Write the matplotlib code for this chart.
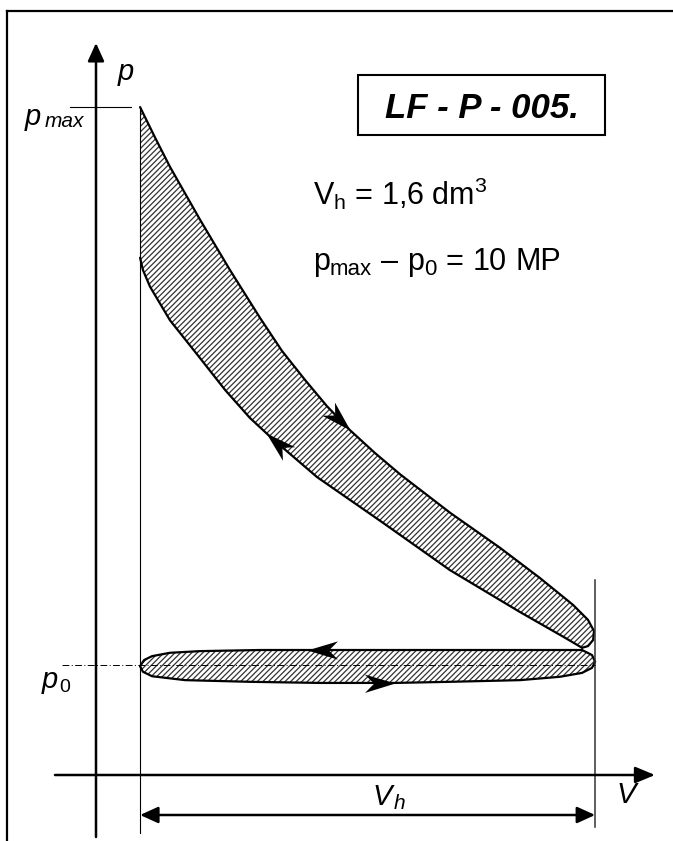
import numpy as np
import matplotlib
matplotlib.use("Agg")
import matplotlib.pyplot as plt
from matplotlib.path import Path
from matplotlib.markers import MarkerStyle
from matplotlib.transforms import Affine2D
from matplotlib.lines import Line2D
from matplotlib.patches import Rectangle

plt.rcParams['font.family'] = ['Liberation Sans', 'DejaVu Sans']
plt.rcParams['mathtext.fontset'] = 'custom'
plt.rcParams['mathtext.rm'] = 'Liberation Sans'
plt.rcParams['mathtext.it'] = 'Liberation Sans:italic'
plt.rcParams['hatch.linewidth'] = 0.9

#------------------------------------------------------------------------------
# p-V diagram: V in dm3, p in MPa
Vc = 0.155
Vh = 1.6
p0 = 1.97
pmax = 11.97

# expansion line, from pmax down to the right end
exp_V = [0.155, 0.207, 0.260, 0.366, 0.471, 0.577, 0.654, 0.735, 0.812, 0.893,
         0.981, 1.069, 1.245, 1.421, 1.561, 1.677, 1.730, 1.751, 1.748, 1.730, 1.709]
exp_p = [11.97, 11.43, 10.90, 9.95, 9.05, 8.19, 7.60, 7.08, 6.61, 6.18,
         5.77, 5.39, 4.70, 4.07, 3.53, 3.05, 2.78, 2.58, 2.42, 2.31, 2.28]

# compression line, from the right end back to Vc
comp_V = [1.709, 1.649, 1.491, 1.245, 1.009, 0.777, 0.658, 0.598, 0.541, 0.454,
          0.366, 0.260, 0.190, 0.165, 0.155]
comp_p = [2.28, 2.46, 2.92, 3.67, 4.52, 5.34, 5.86, 6.13, 6.40, 6.90,
          7.47, 8.15, 8.75, 9.05, 9.27]

# exhaust (upper edge of the low loop), right to left
exh_V = [1.709, 1.491, 1.245, 0.999, 0.742, 0.577, 0.366, 0.260, 0.197, 0.169, 0.155]
exh_p = [2.24, 2.24, 2.24, 2.24, 2.24, 2.24, 2.22, 2.19, 2.13, 2.06, 1.95]

# intake (lower edge of the low loop), left to right
int_V = [0.155, 0.165, 0.197, 0.313, 0.541, 0.788, 1.051, 1.245, 1.491, 1.631,
         1.709, 1.744, 1.755, 1.744, 1.709]
int_p = [1.95, 1.85, 1.77, 1.70, 1.67, 1.65, 1.65, 1.67, 1.70, 1.76,
         1.83, 1.92, 2.03, 2.15, 2.24]

# which point of each line carries the direction arrow
arrow_idx = {'exp': 9, 'comp': 7, 'exh': 4, 'int': 6}

#------------------------------------------------------------------------------
W, H = 673, 841
X0, Y0 = 96, 775          # pixel of the origin
SX, SY = 284.4, 55.8      # pixels per dm3 / per MPa

def fx(x): return x / W
def fy(y): return 1 - y / H

fig = plt.figure(figsize=(W / 100, H / 100), dpi=100)
ax = fig.add_axes([0, 0, 1, 1])
ax.set_xlim(-X0 / SX, (W - X0) / SX)
ax.set_ylim((Y0 - H) / SY, Y0 / SY)
ax.axis('off')

# hatched loops
up_V = exp_V + comp_V[1:] + [Vc]
up_p = exp_p + comp_p[1:] + [pmax]
ax.fill(up_V, up_p, facecolor='none', edgecolor='#333333', hatch='//////', lw=0)
lo_V = exh_V + int_V[1:]
lo_p = exh_p + int_p[1:]
ax.fill(lo_V, lo_p, facecolor='none', edgecolor='#333333', hatch='//////', lw=0)

for vv, pp in [(exp_V, exp_p), (comp_V, comp_p), (exh_V, exh_p), (int_V, int_p)]:
    ax.plot(vv, pp, color='k', lw=1.6, solid_capstyle='round', solid_joinstyle='round')

# vertical lines at Vc and Vc+Vh
ax.plot([Vc, Vc], [pmax, (Y0 - 833) / SY], color='k', lw=0.8)
ax.plot([Vc + Vh, Vc + Vh], [(Y0 - 580) / SY, (Y0 - 827) / SY], color='#333333', lw=1.1)

# pmax tick and p0 dash-dot line
ax.plot([(70 - X0) / SX, (131 - X0) / SX], [pmax, pmax], color='k', lw=0.8)
ax.plot([(62 - X0) / SX, Vc + Vh], [p0, p0], color='k', lw=0.7, dashes=(7, 2.5, 1, 2.5))

# axes with arrows
ax.annotate('', xy=(0, (Y0 - 43) / SY), xytext=(0, (Y0 - 837) / SY),
            arrowprops=dict(arrowstyle='-|>,head_length=11,head_width=5', mutation_scale=1,
                            color='k', lw=1.8, shrinkA=0, shrinkB=0))
ax.annotate('', xy=((655 - X0) / SX, 0), xytext=((55 - X0) / SX, 0),
            arrowprops=dict(arrowstyle='-|>,head_length=12,head_width=5', mutation_scale=1,
                            color='k', lw=1.8, shrinkA=0, shrinkB=0))
# Vh dimension arrow
ax.annotate('', xy=(Vc + Vh, (Y0 - 815) / SY), xytext=(Vc, (Y0 - 815) / SY),
            arrowprops=dict(arrowstyle='<|-|>,head_length=11,head_width=5', mutation_scale=1,
                            color='k', lw=1.8, shrinkA=0, shrinkB=0))

# direction arrows on the loops
head = Path([(0, 0), (-1, 0.3), (-0.7, 0), (-1, -0.3), (0, 0)],
            [Path.MOVETO, Path.LINETO, Path.LINETO, Path.LINETO, Path.CLOSEPOLY])
for key, vv, pp in [('exp', exp_V, exp_p), ('comp', comp_V, comp_p),
                    ('exh', exh_V, exh_p), ('int', int_V, int_p)]:
    i = arrow_idx[key]
    a = ax.transData.transform((vv[i - 1], pp[i - 1]))
    b = ax.transData.transform((vv[i + 1], pp[i + 1]))
    ang = np.degrees(np.arctan2(b[1] - a[1], b[0] - a[0]))
    m = MarkerStyle(head, transform=Affine2D().rotate_deg(ang))
    ax.plot(vv[i], pp[i], marker=m, markersize=44, color='k', mew=0, zorder=5)

# frame
fig.add_artist(Line2D([fx(7), fx(7)], [fy(11), 0], lw=1.6, color='k'))
fig.add_artist(Line2D([fx(7), 1], [fy(11), fy(11)], lw=1.6, color='k'))

# labels
fig.text(fx(118), fy(80), 'p', style='italic', fontsize=21, va='baseline')
fig.text(fx(25), fy(125), 'p', style='italic', fontsize=21, va='baseline')
fig.text(fx(45), fy(127), 'max', style='italic', fontsize=15, va='baseline')
fig.text(fx(42), fy(688), 'p', style='italic', fontsize=21, va='baseline')
fig.text(fx(59), fy(692), '0', fontsize=14, va='baseline')
fig.text(fx(616), fy(803), 'V', style='italic', fontsize=21, va='baseline')
fig.text(fx(372), fy(805), 'V', style='italic', fontsize=21, va='baseline')
fig.text(fx(394), fy(809), 'h', style='italic', fontsize=15, va='baseline')

fig.add_artist(Rectangle((fx(358), fy(135)), (605 - 358) / W, 60 / H, fill=False,
                         lw=1.5, color='k', transform=fig.transFigure))
fig.text(fx(481.5), fy(118), 'LF - P - 005.', weight='bold', style='italic',
         fontsize=25, ha='center', va='baseline')
fig.text(fx(313), fy(205), r'V$_\mathregular{h}$ = 1,6 dm$^\mathregular{3}$',
         fontsize=22, va='baseline')

# pmax - p0 line, pieces put one after the other
renderer = fig.canvas.get_renderer()
x = 313
for s, size, dy, gap in [('p', 22, 0, 0), ('max', 16, 5, 9), ('–', 22, 0, 9),
                         ('p', 22, 0, 0), ('0', 16, 5, 9), ('=', 22, 0, 9),
                         ('10', 22, 0, 9), ('MP', 22, 0, 0)]:
    t = fig.text(fx(x), fy(270 + dy), s, fontsize=size, va='baseline')
    x = t.get_window_extent(renderer).x1 + gap

fig.savefig('out.png', dpi=100)
